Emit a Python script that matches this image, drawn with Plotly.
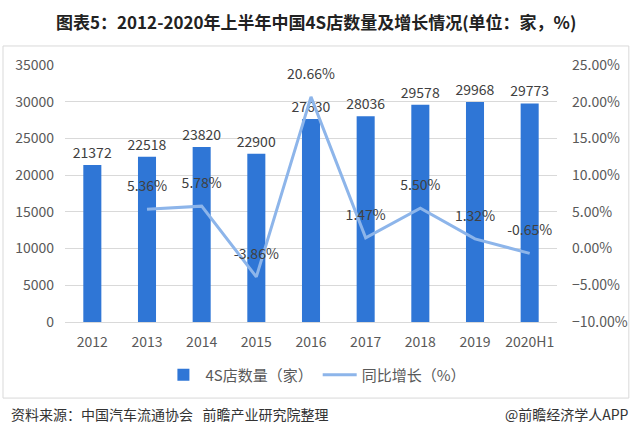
import plotly.graph_objects as go

categories = ["2012", "2013", "2014", "2015", "2016", "2017", "2018", "2019", "2020H1"]
stores = [21372, 22518, 23820, 22900, 27630, 28036, 29578, 29968, 29773]
growth_cats = ["2013", "2014", "2015", "2016", "2017", "2018", "2019", "2020H1"]
growth = [5.36, 5.78, -3.86, 20.66, 1.47, 5.50, 1.32, -0.65]

FONT = "Noto Sans CJK SC"
BAR_C = "#2F76D6"
LINE_C = "#8DB5EA"
TXT = "#404040"

fig = go.Figure()
fig.add_trace(go.Bar(
    x=categories, y=stores, name="4S店数量（家）",
    marker=dict(color=BAR_C, line=dict(width=0)), width=0.33,
    text=[str(v) for v in stores], textposition="outside", constraintext="none",
    textfont=dict(size=14, color=TXT, family=FONT), cliponaxis=False,
))
fig.add_trace(go.Scatter(
    x=growth_cats, y=[g / 100 for g in growth], name="同比增长（%）",
    mode="lines+markers+text", yaxis="y2",
    line=dict(color=LINE_C, width=3),
    marker=dict(size=22, color="rgba(0,0,0,0)", line=dict(width=0)),
    text=[f"{g:.2f}%" for g in growth], textposition="top center",
    textfont=dict(size=14, color=TXT, family=FONT), cliponaxis=False,
))

fig.update_layout(
    width=640, height=439,
    margin=dict(l=65, r=76, t=65, b=117),
    paper_bgcolor="white", plot_bgcolor="white",
    font=dict(family=FONT, color="#595959", size=14),
    xaxis=dict(type="category", categoryorder="array", categoryarray=categories,
               range=[-0.5, len(categories) - 0.5],
               showline=True, linecolor="#D9D9D9", linewidth=1,
               showgrid=False, ticks="", ticklabelstandoff=7,
               tickfont=dict(size=14, color="#595959")),
    yaxis=dict(range=[0, 35000], dtick=5000, showgrid=True, gridcolor="#D9D9D9",
               gridwidth=1, zeroline=False, ticks="", ticklabelstandoff=10,
               tickformat="d", tickfont=dict(size=14, color="#595959")),
    yaxis2=dict(range=[-0.10, 0.25], dtick=0.05, overlaying="y", side="right",
                showgrid=False, zeroline=False, tickformat=".2%", ticks="",
                ticklabelstandoff=14, tickfont=dict(size=14, color="#595959")),
    legend=dict(orientation="h", x=0.511, xanchor="center", y=-0.206, yanchor="middle",
                font=dict(size=15, color="#595959"), itemwidth=34,
                bgcolor="rgba(0,0,0,0)"),
    showlegend=True,
)

fig.add_shape(type="rect", xref="paper", yref="paper",
              x0=-0.126, x1=1.146, y0=-0.296, y1=1.074,
              line=dict(color="#D9D9D9", width=1), fillcolor="rgba(0,0,0,0)", layer="below")

fig.add_annotation(text="<b>图表5：2012-2020年上半年中国4S店数量及增长情况(单位：家，%)</b>",
                   xref="paper", yref="paper", x=(320 - 65) / 499, y=(322 - 22) / 257,
                   xanchor="center", yanchor="middle", showarrow=False,
                   font=dict(size=17, color="#222222", family=FONT))
fig.add_annotation(text="资料来源：中国汽车流通协会   前瞻产业研究院整理",
                   xref="paper", yref="paper", x=(8 - 65) / 499, y=(322 - 414) / 257,
                   xanchor="left", yanchor="middle", showarrow=False,
                   font=dict(size=14, color="#333333", family=FONT))
fig.add_annotation(text="@前瞻经济学人APP",
                   xref="paper", yref="paper", x=(639 - 65) / 499, y=(322 - 414) / 257,
                   xanchor="right", yanchor="middle", showarrow=False,
                   font=dict(size=14, color="#333333", family=FONT))

fig.write_html("out.html")
